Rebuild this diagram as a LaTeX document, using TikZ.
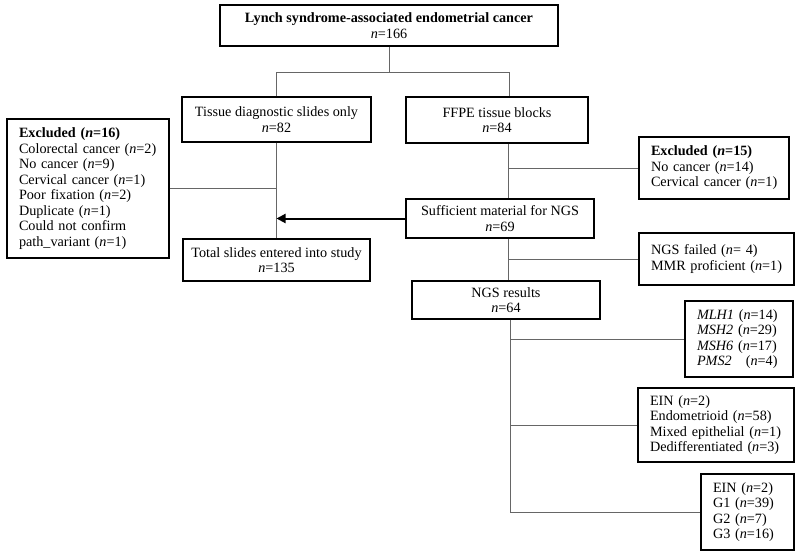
\documentclass[tikz,border=0pt]{standalone}
\usepackage{fontspec}
\setmainfont{Liberation Serif}
\usetikzlibrary{arrows.meta}
\newcommand\nn{\textit{n}}
\newcommand\fsz{\fontsize{14.2}{15.5}\selectfont}
\tikzset{
  box/.style={draw=black, line width=1.3pt, rectangle, inner sep=0pt, align=center, font=\fsz},
  lbox/.style={box, align=left, inner xsep=6pt, execute at begin node={\leftskip=6pt}},
  conn/.style={draw=black!60, line width=0.8pt},
  bigarrow/.style={draw=black, line width=2pt, -{Triangle[length=9pt,width=9pt]}}
}
\begin{document}
\begin{tikzpicture}[x=1pt,y=-1pt]
\useasboundingbox (0,0) rectangle (800,555);
% boxes
\node[box, minimum width=338pt, minimum height=41pt] (top) at (389,25.5)
  {\textbf{Lynch syndrome-associated endometrial cancer}\\\nn=166};
\node[box, minimum width=189pt, minimum height=45pt] (tds) at (276.5,119.5)
  {Tissue diagnostic slides only\\\nn=82};
\node[box, minimum width=182pt, minimum height=46pt] (ffpe) at (497,120)
  {FFPE tissue blocks\\\nn=84};
\node[lbox, text width=150pt, minimum height=139pt] (exL) at (88,188.5)
  {\textbf{Excluded (\textit{n}=16)}\\Colorectal cancer (\nn=2)\\No cancer (\nn=9)\\Cervical cancer (\nn=1)\\Poor fixation (\nn=2)\\Duplicate (\nn=1)\\Could not confirm\\path\_variant (\nn=1)};
\node[box, minimum width=187pt, minimum height=42pt] (total) at (276.5,260)
  {Total slides entered into study\\\nn=135};
\node[lbox, text width=138pt, minimum height=62pt] (exR) at (714,168)
  {\textbf{Excluded (\textit{n}=15)}\\No cancer (\nn=14)\\Cervical cancer (\nn=1)};
\node[box, minimum width=188pt, minimum height=39pt] (suff) at (500,218.5)
  {Sufficient material for NGS\\\nn=69};
\node[lbox, text width=143pt, minimum height=52pt] (fail) at (716.5,259)
  {NGS failed (\nn= 4)\\MMR proficient (\nn=1)};
\node[box, minimum width=188pt, minimum height=38pt] (ngs) at (506,300)
  {NGS results\\\nn=64};
\node[lbox, text width=96pt, minimum height=76pt] (genes) at (739,339)
  {\textit{MLH1} (\nn=14)\\\textit{MSH2} (\nn=29)\\\textit{MSH6} (\nn=17)\\\textit{PMS2}\ \ \ (\nn=4)};
\node[lbox, text width=144pt, minimum height=74pt] (ein) at (716,425)
  {EIN (\nn=2)\\Endometrioid (\nn=58)\\Mixed epithelial (\nn=1)\\Dedifferentiated (\nn=3)};
\node[lbox, text width=81pt, minimum height=76pt] (grade) at (747.5,512)
  {EIN (\nn=2)\\G1 (\nn=39)\\G2 (\nn=7)\\G3 (\nn=16)};
% junctions
\coordinate (jL) at (276.5,72);
\coordinate (jR) at (509,72);
\coordinate (vR) at (508,0);
\coordinate (vR2) at (510,0);
% connectors
\draw[conn] (top.south) -- (top.south |- jL);
\draw[conn] (tds.north) -- (jL) -- (jR) -- (jR |- ffpe.north);
\draw[conn] (tds.south) -- (total.north);
\draw[conn] (exL.east) -- (exL.east -| tds.south);
\draw[bigarrow] (suff.west) -- (suff.west -| tds.south);
\draw[conn] (vR |- ffpe.south) -- (vR |- suff.north);
\draw[conn] (vR |- exR.west) -- (exR.west);
\draw[conn] (vR |- suff.south) -- (vR |- ngs.north);
\draw[conn] (vR |- fail.west) -- (fail.west);
\draw[conn] (vR2 |- ngs.south) -- (vR2 |- grade.west);
\draw[conn] (vR2 |- genes.west) -- (genes.west);
\draw[conn] (vR2 |- ein.west) -- (ein.west);
\draw[conn] (vR2 |- grade.west) -- (grade.west);
\end{tikzpicture}
\end{document}
